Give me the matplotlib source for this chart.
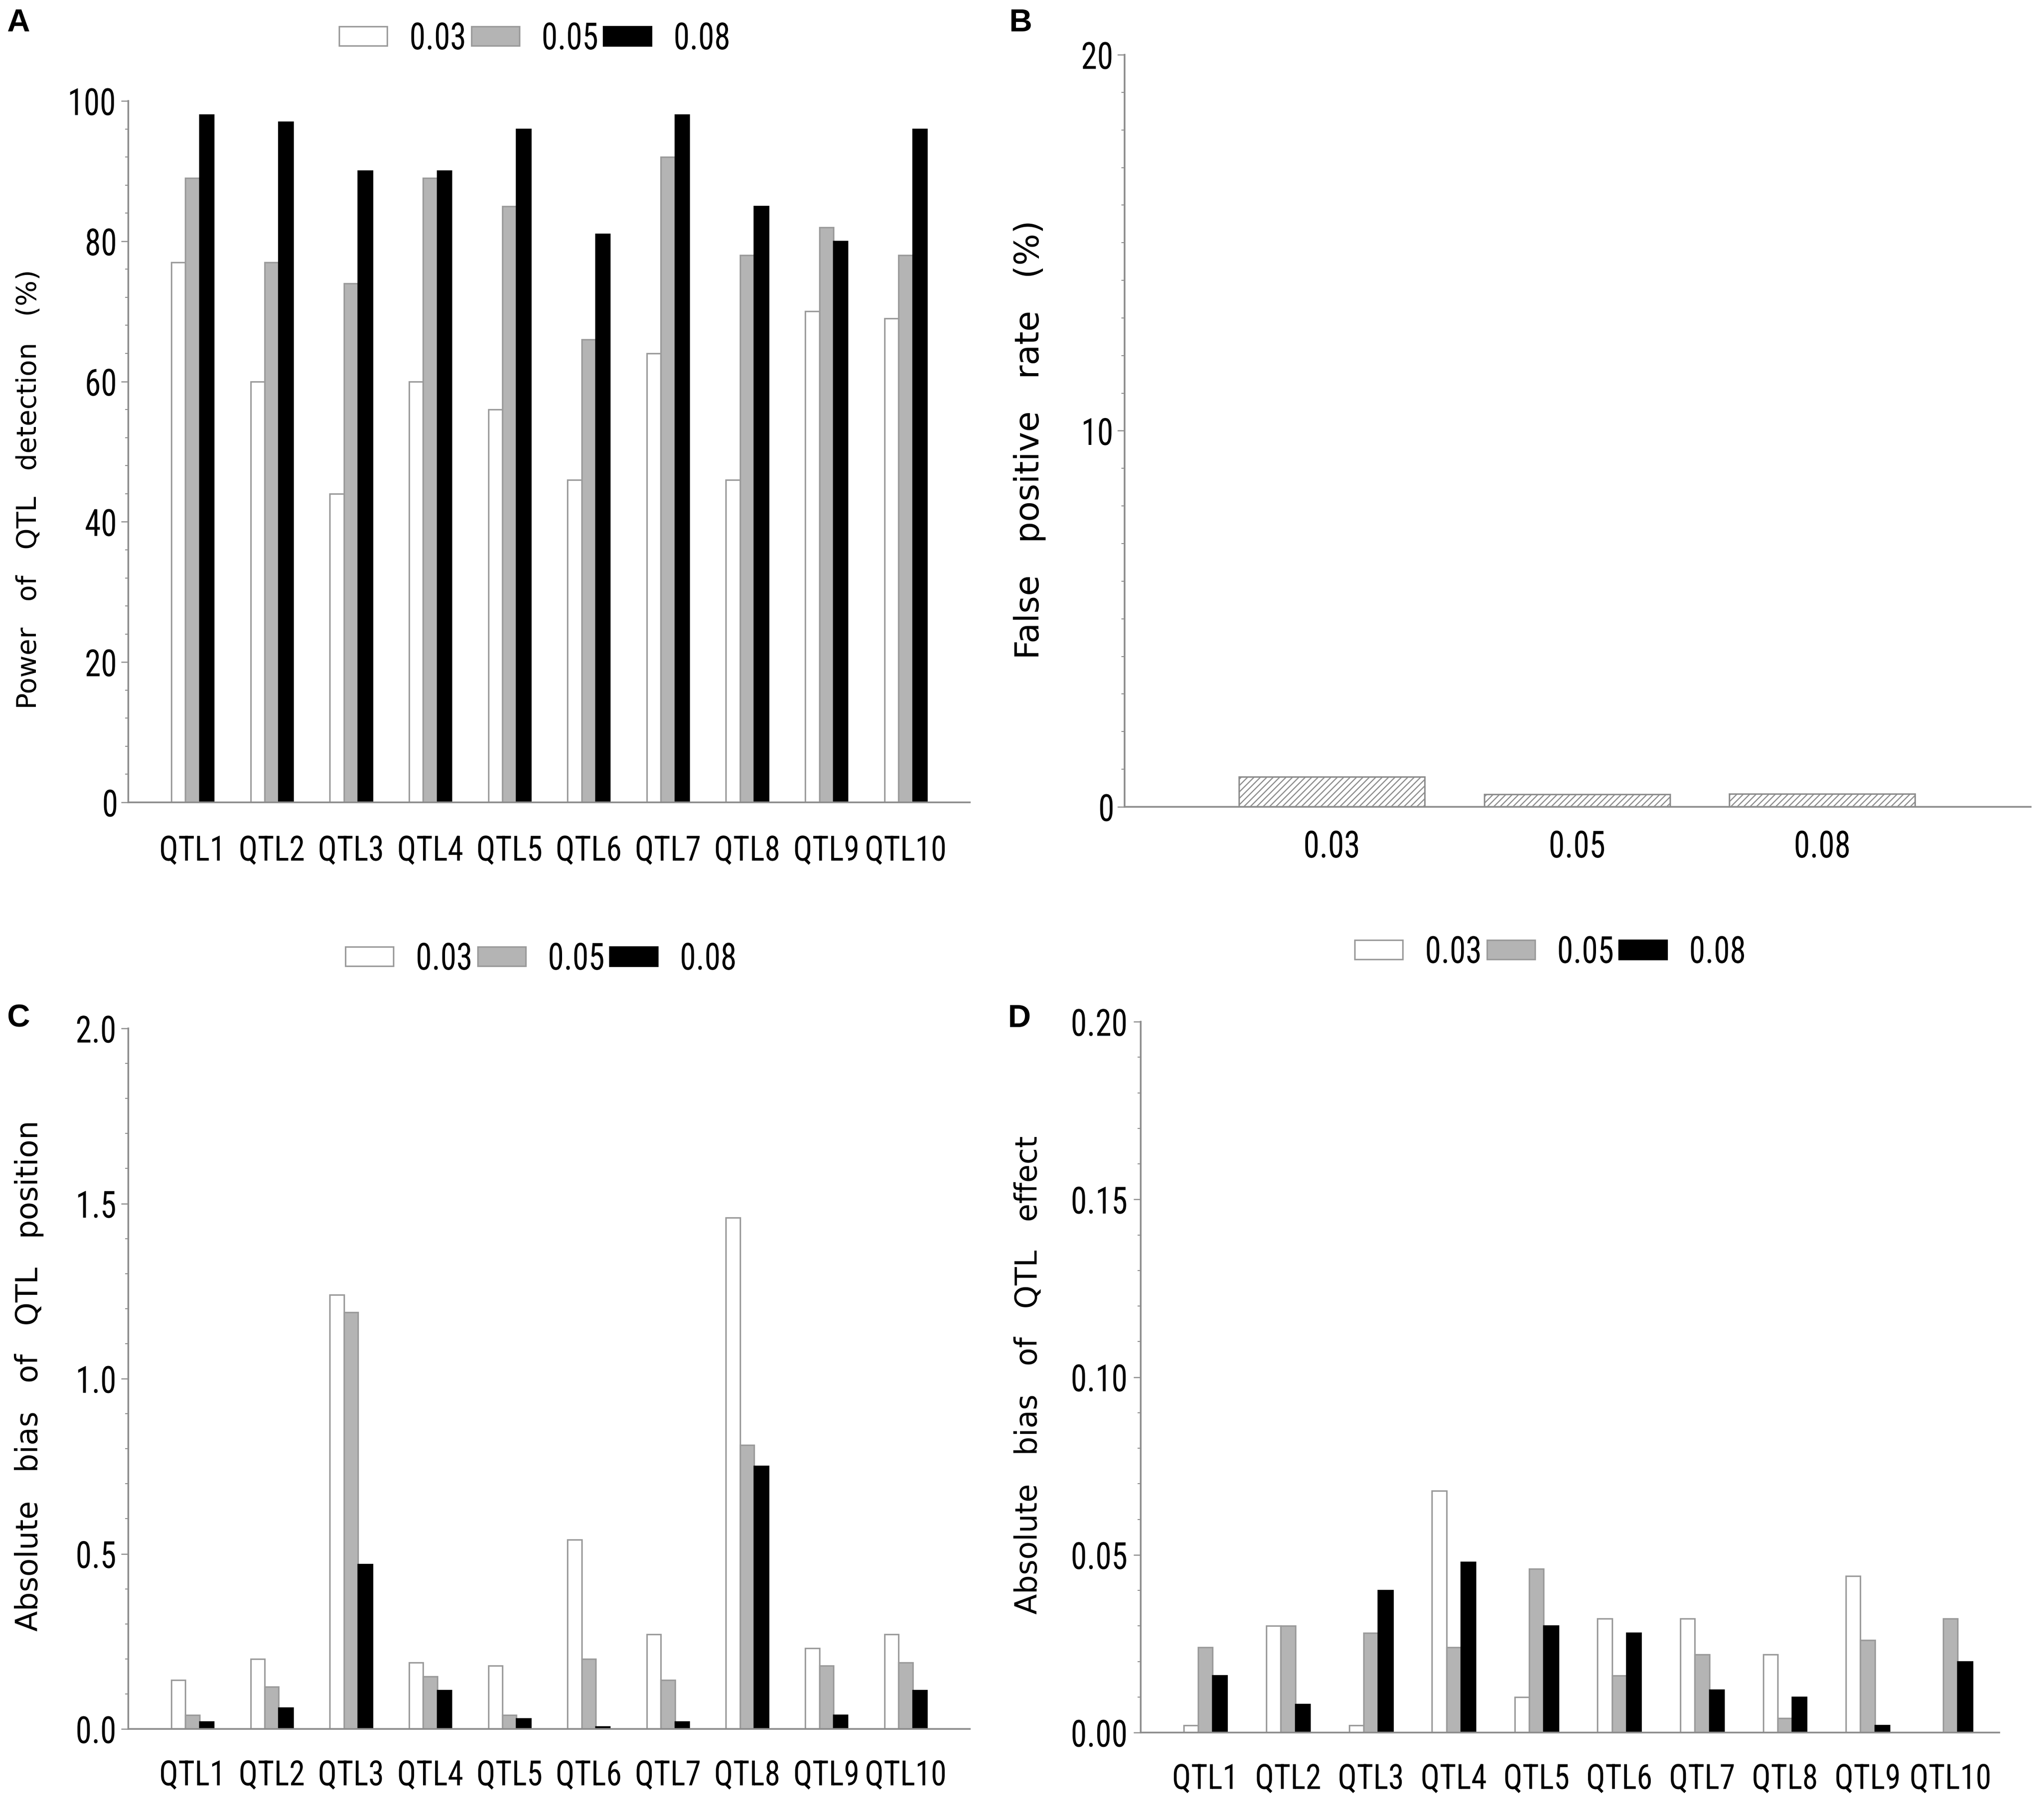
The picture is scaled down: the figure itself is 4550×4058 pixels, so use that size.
import numpy as np
import matplotlib
matplotlib.use("Agg")
import matplotlib.pyplot as plt
from matplotlib.ticker import MultipleLocator
from matplotlib import font_manager as fm
from matplotlib.patheffects import AbstractPathEffect
from matplotlib.transforms import Affine2D

# ---------------- data ----------------
qtl_labels = ["QTL1", "QTL2", "QTL3", "QTL4", "QTL5", "QTL6", "QTL7", "QTL8", "QTL9", "QTL10"]
levels = ["0.03", "0.05", "0.08"]

power_003 = [77, 60, 44, 60, 56, 46, 64, 46, 70, 69]
power_005 = [89, 77, 74, 89, 85, 66, 92, 78, 82, 78]
power_008 = [98, 97, 90, 90, 96, 81, 98, 85, 80, 96]

fpr_values = [0.80, 0.33, 0.35]

pos_003 = [0.14, 0.20, 1.24, 0.19, 0.18, 0.54, 0.27, 1.46, 0.23, 0.27]
pos_005 = [0.04, 0.12, 1.19, 0.15, 0.04, 0.20, 0.14, 0.81, 0.18, 0.19]
pos_008 = [0.02, 0.06, 0.47, 0.11, 0.03, 0.007, 0.02, 0.75, 0.04, 0.11]

eff_003 = [0.002, 0.030, 0.002, 0.068, 0.010, 0.032, 0.032, 0.022, 0.044, 0.0]
eff_005 = [0.024, 0.030, 0.028, 0.024, 0.046, 0.016, 0.022, 0.004, 0.026, 0.032]
eff_008 = [0.016, 0.008, 0.040, 0.048, 0.030, 0.028, 0.012, 0.010, 0.002, 0.020]

yticks_A = [0, 20, 40, 60, 80, 100]
ylabels_A = ["0", "20", "40", "60", "80", "100"]
yticks_B = [0, 10, 20]
ylabels_B = ["0", "10", "20"]
yticks_C = [0.0, 0.5, 1.0, 1.5, 2.0]
ylabels_C = ["0.0", "0.5", "1.0", "1.5", "2.0"]
yticks_D = [0.00, 0.05, 0.10, 0.15, 0.20]
ylabels_D = ["0.00", "0.05", "0.10", "0.15", "0.20"]

# ---------------- fonts ----------------
names = {f.name for f in fm.fontManager.ttflist}
narrow = None
for cand in ["Liberation Sans Narrow", "Arial Narrow", "Roboto Condensed",
             "Noto Sans Condensed", "Open Sans Condensed"]:
    if cand in names:
        narrow = cand
        break
if narrow is None:
    tick_family = "Liberation Sans"
    tick_fs, xtick_fs = 17, 15
    SX, SXX = 0.72, 0.75
else:
    tick_family = narrow
    tick_fs, xtick_fs = 20, 18.6
    SX, SXX = 0.87, 0.91
label_family = "DejaVu Sans"
plt.rcParams["font.family"] = [tick_family, "DejaVu Sans"]
plt.rcParams["hatch.linewidth"] = 0.6


class Condense(AbstractPathEffect):
    """Squeeze glyphs horizontally around the centre of the string."""

    def __init__(self, sx):
        super().__init__()
        self.sx = sx

    def draw_path(self, renderer, gc, tpath, affine, rgbFace=None):
        ext = tpath.get_extents()
        cx = 0.5 * (ext.x0 + ext.x1)
        t = Affine2D().translate(-cx, 0).scale(self.sx, 1.0).translate(cx, 0) + affine
        renderer.draw_path(gc, tpath, t, rgbFace)


COND = [Condense(SX)]
CONDX = [Condense(SXX)]

AX_COL = "#8c8c8c"
W, H = 4550, 4058
fig = plt.figure(figsize=(W / 300, H / 300), dpi=300)
fig.patch.set_facecolor("white")
FSPX = tick_fs * 300 / 72.0


def frac_axes(left, right, bottom, top):
    return fig.add_axes([left / W, 1 - bottom / H, (right - left) / W, (bottom - top) / H])


axA = frac_axes(286, 2162, 1789, 225)
axB = frac_axes(2507, 4527, 1799, 122)
axC = frac_axes(286, 2162, 3855, 2293)
axD = frac_axes(2543, 4457, 3863, 2278)

bar_styles = [dict(facecolor="white", edgecolor="#9a9a9a"),
              dict(facecolor="#b4b4b4", edgecolor="#9a9a9a"),
              dict(facecolor="black", edgecolor="black")]


def style_axes(ax, yticks, ylabels, minor_step, ylim, xpad, xfs, xeff):
    for s in ["top", "right"]:
        ax.spines[s].set_visible(False)
    for s in ["left", "bottom"]:
        ax.spines[s].set_color(AX_COL)
        ax.spines[s].set_linewidth(0.9)
    ax.set_ylim(*ylim)
    ax.set_yticks(yticks, ylabels)
    ax.yaxis.set_minor_locator(MultipleLocator(minor_step))
    ax.tick_params(axis="y", which="major", length=3.8, width=0.6, color=AX_COL,
                   pad=1.0, labelsize=tick_fs)
    ax.tick_params(axis="y", which="minor", length=1.8, width=0.5, color=AX_COL)
    ax.tick_params(axis="x", which="both", length=0, pad=xpad, labelsize=xfs)
    for t in ax.get_yticklabels():
        t.set_family(tick_family)
        t.set_path_effects(COND)
    for t in ax.get_xticklabels():
        t.set_family(tick_family)
        t.set_path_effects(xeff)


def grouped(ax, series, w, xlim):
    x = np.arange(len(qtl_labels))
    for i, (vals, st, lab) in enumerate(zip(series, bar_styles, levels)):
        ax.bar(x + (i - 1) * w, vals, width=w, label=lab, linewidth=0.8, **st)
    ax.set_xticks(x, qtl_labels)
    ax.set_xlim(*xlim)


def add_legend(ax, cx, cy):
    leg = ax.legend(loc="center", bbox_to_anchor=(cx / W, 1 - cy / H),
                    bbox_transform=fig.transFigure, ncol=3, frameon=False,
                    prop=fm.FontProperties(family=tick_family, size=tick_fs),
                    handlelength=107 / FSPX, handleheight=35 / FSPX,
                    handletextpad=40 / FSPX, columnspacing=2 / FSPX,
                    borderpad=0, borderaxespad=0)
    for t in leg.get_texts():
        t.set_path_effects(COND)


def set_ylab(ax, text, size, xf, yf):
    ax.set_ylabel(text, fontsize=size, family=label_family, va="center")
    ax.yaxis.set_label_coords(xf, yf)


# Panel A
grouped(axA, [power_003, power_005, power_008], 0.178, (-0.81, 9.81))
style_axes(axA, yticks_A, ylabels_A, 4, (0, 100), 17, xtick_fs, CONDX)
set_ylab(axA, "Power   of   QTL   detection   (%)", 14.5, -0.118, 0.446)
add_legend(axA, 1197, 87)

# Panel B
xb = np.arange(len(levels))
axB.bar(xb, fpr_values, width=0.757, facecolor="white", edgecolor="#8c8c8c",
        hatch="///////", linewidth=0.8)
axB.set_xticks(xb, levels)
axB.set_xlim(-0.845, 2.85)
style_axes(axB, yticks_B, ylabels_B, 1, (0, 20), 12, tick_fs, COND)
set_ylab(axB, "False   positive   rate   (%)", 18, -0.1045, 0.488)

# Panel C
grouped(axC, [pos_003, pos_005, pos_008], 0.178, (-0.81, 9.81))
style_axes(axC, yticks_C, ylabels_C, 0.1, (0, 2.0), 16, xtick_fs, CONDX)
set_ylab(axC, "Absolute   bias   of   QTL   position", 16, -0.118, 0.504)
add_legend(axC, 1211, 2139)

# Panel D
grouped(axD, [eff_003, eff_005, eff_008], 0.175, (-0.78, 9.59))
style_axes(axD, yticks_D, ylabels_D, 0.01, (0, 0.20), 16, xtick_fs, CONDX)
set_ylab(axD, "Absolute   bias   of   QTL   effect", 16, -0.1306, 0.503)
add_legend(axD, 3461, 2124)

# Panel letters
for letter, (px, py) in zip("ABCD", [(41, 52), (2275, 52), (41, 2272), (2272, 2272)]):
    fig.text(px / W, 1 - py / H, letter, fontsize=17, fontweight="bold",
             family="Liberation Sans", ha="center", va="center")

fig.savefig("out.png", dpi=300, facecolor="white")
